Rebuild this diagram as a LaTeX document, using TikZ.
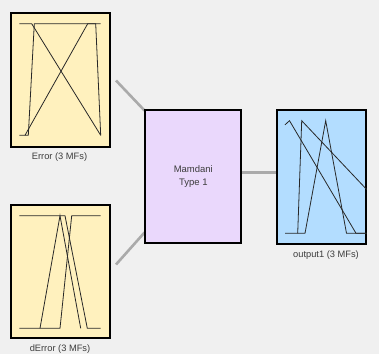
\documentclass[tikz,border=0pt]{standalone}
\usepackage{fontspec}
\setmainfont{Liberation Sans}
\definecolor{bgc}{RGB}{240,240,240}
\definecolor{inpfill}{RGB}{255,241,190}
\definecolor{rulefill}{RGB}{234,216,252}
\definecolor{outfill}{RGB}{179,221,255}
\definecolor{linkc}{RGB}{170,170,170}
\definecolor{mfc}{RGB}{40,40,40}
\definecolor{txtc}{RGB}{60,60,60}
\begin{document}
\begin{tikzpicture}[x=1pt,y=-1pt,
  blockbox/.style={draw=black,line width=2pt,inner sep=0pt,rectangle},
  mfline/.style={draw=mfc,line width=0.8pt,line join=miter},
  link/.style={draw=linkc,line width=2.6pt},
  caption/.style={font=\fontsize{9.3}{11}\selectfont,text=txtc,inner sep=0pt},
  ruletext/.style={font=\fontsize{9.5}{12.7}\selectfont,text=txtc,align=center,inner sep=0pt}]
\useasboundingbox (0,0) rectangle (379,354);
\fill[bgc] (0,0) rectangle (379,354);

% connectors
\coordinate (e1) at (116,80.5);
\coordinate (e2) at (116,264.5);
\coordinate (m1) at (144.5,110.5);
\coordinate (m2) at (144.5,232.5);
\coordinate (m3) at (242,172.7);
\coordinate (o1) at (276,172.7);
\draw[link] (e1) -- (m1);
\draw[link] (e2) -- (m2);
\draw[link] (m3) -- (o1);

% blocks
\node[blockbox,fill=inpfill,minimum width=98.7pt,minimum height=133.7pt] (err) at (60.3,79.8) {};
\node[blockbox,fill=inpfill,minimum width=98.7pt,minimum height=133.3pt] (derr) at (60.3,271.7) {};
\node[blockbox,fill=rulefill,minimum width=96.3pt,minimum height=132.4pt] (mam) at (193.2,176.5) {};
\node[blockbox,fill=outfill,minimum width=89.6pt,minimum height=134pt] (out) at (321.5,177) {};

\node[ruletext] (mamtxt) at (193.3,176.3) {Mamdani\\Type 1};

% membership functions of Error
\draw[mfline] (19.3,23.7) -- (31.7,23.7) -- (100.7,135.3);
\draw[mfline] (19.3,135.3) -- (28.3,135.3) -- (34.3,23.7) -- (100.7,23.7);
\draw[mfline] (25,135.3) -- (87.7,23.7) -- (95.7,23.7) -- (100.7,135.3);

% membership functions of dError
\draw[mfline] (19.3,215.7) -- (65,215.7) -- (87.3,328.3) -- (100.7,328.3);
\draw[mfline] (40,328.3) -- (60,215.7) -- (80.7,328.3);
\draw[mfline] (19.3,328.3) -- (60,328.3) -- (71.7,215.7) -- (100.7,215.7);

% membership functions of output1
\draw[mfline] (285,124.8) -- (289.5,120.7) -- (356,233.3) -- (366.7,233.3);
\draw[mfline] (285,233.3) -- (297.7,233.3) -- (301.7,120.7) -- (366.7,189.5);
\draw[mfline] (297.7,233.3) -- (305,233.3) -- (325.7,120.7) -- (346.5,233.3) -- (366.7,233.3);

% captions
\node[caption] (errcap) at (59.5,156.7) {Error (3 MFs)};
\node[caption] (derrcap) at (60,349.5) {dError (3 MFs)};
\node[caption] (outcap) at (326,255) {output1 (3 MFs)};
\end{tikzpicture}
\end{document}
